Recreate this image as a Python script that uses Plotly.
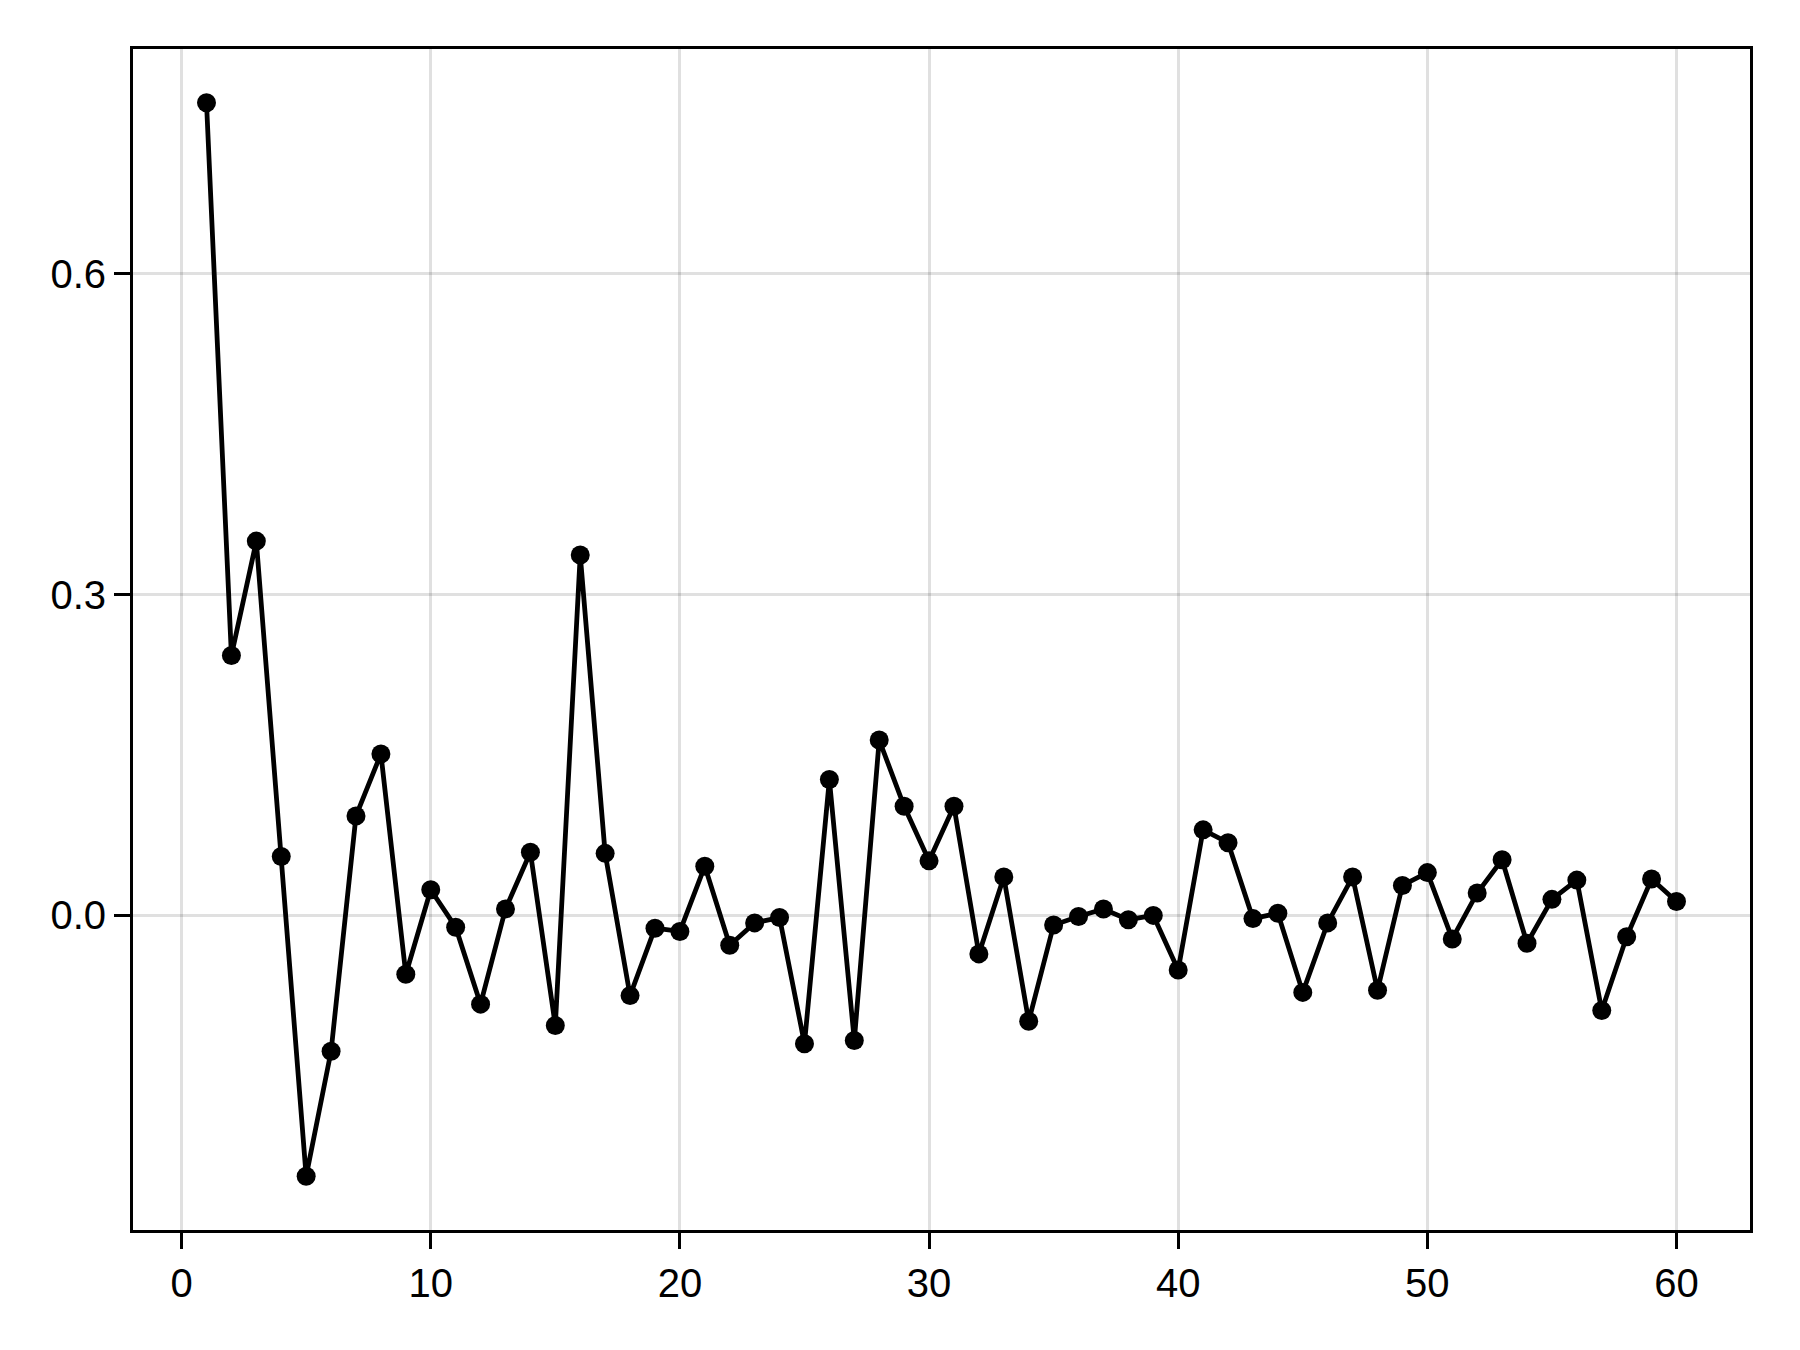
import plotly.graph_objects as go

x_vals = list(range(1, 61))
y_vals = [
    0.760, 0.243, 0.350, 0.055, -0.244, -0.127, 0.093, 0.151, -0.055, 0.024,
    -0.011, -0.083, 0.006, 0.059, -0.103, 0.337, 0.058, -0.075, -0.012, -0.015,
    0.046, -0.028, -0.007, -0.002, -0.120, 0.127, -0.117, 0.164, 0.102, 0.051,
    0.102, -0.036, 0.036, -0.099, -0.009, -0.001, 0.006, -0.004, 0.000, -0.051,
    0.080, 0.068, -0.003, 0.002, -0.072, -0.007, 0.036, -0.070, 0.028, 0.040,
    -0.022, 0.021, 0.052, -0.026, 0.015, 0.033, -0.089, -0.020, 0.034, 0.013,
]
x_ticks = [0, 10, 20, 30, 40, 50, 60]
y_ticks = [0.0, 0.3, 0.6]
y_tick_labels = ["0.0", "0.3", "0.6"]

fig = go.Figure()
fig.add_trace(go.Scatter(
    x=x_vals, y=y_vals, mode="lines+markers",
    line=dict(color="black", width=4.8),
    marker=dict(color="black", size=19),
    showlegend=False,
))

span_x = max(x_vals) - min(x_vals)
span_y = max(y_vals) - min(y_vals)

axis_common = dict(
    showline=True, linecolor="black", linewidth=3, mirror=True,
    showgrid=True, gridcolor="rgba(0,0,0,0.12)", gridwidth=3,
    zeroline=False,
    ticks="outside", ticklen=16, tickwidth=3, tickcolor="black",
    tickfont=dict(family="Liberation Sans, Arial, sans-serif", size=40, color="black"),
)

fig.update_xaxes(
    range=[min(x_vals) - 0.05 * span_x, max(x_vals) + 0.05 * span_x],
    tickvals=x_ticks, ticklabelstandoff=0, **axis_common,
)
fig.update_yaxes(
    range=[min(y_vals) - 0.05 * span_y, max(y_vals) + 0.05 * span_y],
    tickvals=y_ticks, ticktext=y_tick_labels, ticklabelstandoff=0, **axis_common,
)

fig.update_layout(
    width=1800, height=1350,
    margin=dict(l=125, r=58, t=41, b=128),
    paper_bgcolor="white", plot_bgcolor="white",
)

fig.write_html("out.html")
